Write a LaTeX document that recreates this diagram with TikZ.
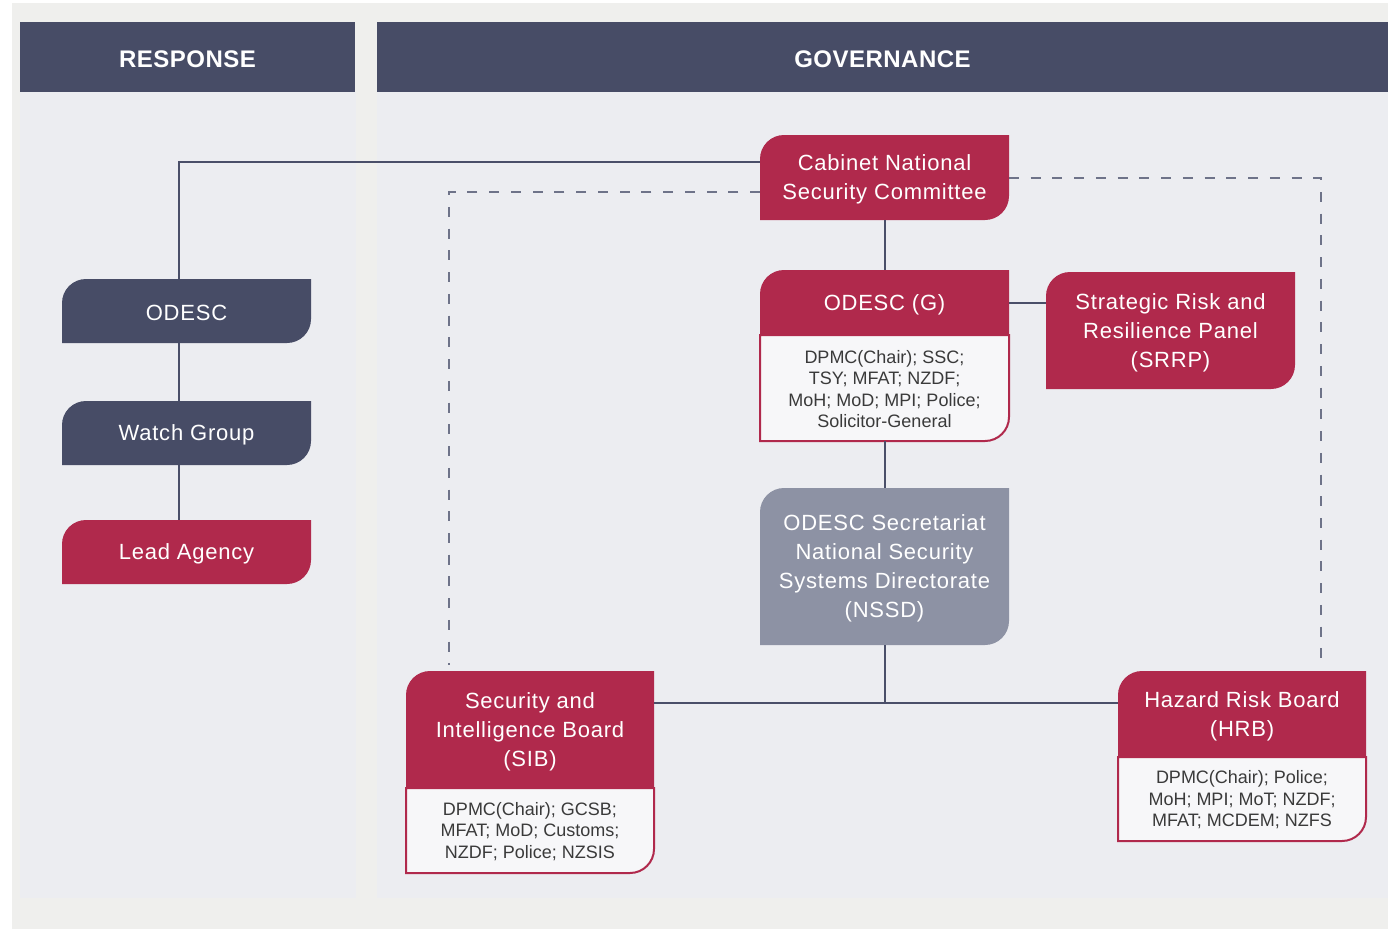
\documentclass[tikz,border=0pt]{standalone}
\usepackage{fontspec}
\setmainfont{Liberation Sans}
\newfontfamily\ttlfont[LetterSpace=3.5]{Liberation Sans}
\newfontfamily\hdrfont[LetterSpace=2]{Liberation Sans}
\usetikzlibrary{fit,calc}
\definecolor{outerbg}{HTML}{EFEFED}
\definecolor{panelbg}{HTML}{ECEDF1}
\definecolor{hdrcol}{HTML}{474C66}
\definecolor{crimson}{HTML}{B0294C}
\definecolor{graybox}{HTML}{8D92A4}
\definecolor{linkcol}{HTML}{4A4F69}
\definecolor{dashcol}{HTML}{6E7389}
\definecolor{memtext}{HTML}{3A3A3A}
\definecolor{memfill}{HTML}{F7F7F9}
% #1=x1 #2=y1 #3=x2 #4=y2 (pixels, y downward), #5=colour
\newcommand\tabshape[5]{\fill[#5] (#1,#4) -- (#1,#2+24) .. controls (#1,#2+10.75) and (#1+10.75,#2) .. (#1+24,#2) -- (#3,#2) -- (#3,#4-24) .. controls (#3,#4-10.75) and (#3-10.75,#4) .. (#3-24,#4) -- cycle;}
\newcommand\topshape[5]{\fill[#5] (#1,#4) -- (#1,#2+24) .. controls (#1,#2+10.75) and (#1+10.75,#2) .. (#1+24,#2) -- (#3,#2) -- (#3,#4) -- cycle;}
\newcommand\botshape[4]{\filldraw[fill=memfill, draw=crimson, line width=1.5pt] (#1,#2) -- (#3,#2) -- (#3,#4-24) .. controls (#3,#4-10.75) and (#3-10.75,#4) .. (#3-24,#4) -- (#1,#4) -- cycle;}
\begin{document}
\begin{tikzpicture}[x=0.75pt,y=-0.75pt,
  area/.style={inner sep=0pt, outer sep=0pt},
  ttl/.style={inner sep=0pt, align=center, text=white, font=\ttlfont\fontsize{16.5}{21.75}\selectfont},
  mem/.style={inner sep=0pt, align=center, text=memtext, font=\fontsize{13.5}{16.1}\selectfont},
  hdr/.style={inner sep=0pt, text=white, font=\hdrfont\bfseries\fontsize{18}{20}\selectfont},
  link/.style={draw=linkcol, line width=1.5pt},
  dashlink/.style={draw=dashcol, line width=1.5pt, dash pattern=on 7.5pt off 8.8pt}]
\useasboundingbox (0,0) rectangle (1388,929);

% backgrounds and box shapes
\fill[white] (0,0) rectangle (1388,929);
\fill[outerbg] (12,3) rectangle (1388,929);
\fill[panelbg] (20,92) rectangle (356,898);
\fill[panelbg] (377,92) rectangle (1388,898);
\tabshape{62}{279}{311}{343}{hdrcol}
\tabshape{62}{401}{311}{465}{hdrcol}
\tabshape{62}{520}{311}{584}{crimson}
\tabshape{760}{135}{1009}{220}{crimson}
\tabshape{1046}{272}{1295}{389}{crimson}
\tabshape{760}{488}{1009}{645}{graybox}
\botshape{760}{335}{1009}{441}
\topshape{760}{270}{1009}{335}{crimson}
\botshape{406}{788}{654}{873}
\topshape{406}{671}{654}{788}{crimson}
\botshape{1118}{757}{1366}{841}
\topshape{1118}{671}{1366}{757}{crimson}

% headers
\node[area, fill=hdrcol, fit={(20,22)(355,92)}] (resp) {};
\node[hdr] (resptxt) at ($(resp.center)+(0,2)$) {RESPONSE};
\node[area, fill=hdrcol, fit={(377,22)(1388,92)}] (gov) {};
\node[hdr] (govtxt) at ($(gov.center)+(0,2)$) {GOVERNANCE};

% areas of the boxes
\node[area, fit={(62,279)(311,343)}] (odesc) {};
\node[area, fit={(62,401)(311,465)}] (watch) {};
\node[area, fit={(62,520)(311,584)}] (lead) {};
\node[area, fit={(760,135)(1009,220)}] (cab) {};
\node[area, fit={(760,270)(1009,335)}] (odgt) {};
\node[area, fit={(760,335)(1009,441)}] (odgm) {};
\node[area, fit={(1046,272)(1295,389)}] (srrp) {};
\node[area, fit={(760,488)(1009,645)}] (nssd) {};
\node[area, fit={(406,671)(654,788)}] (sibt) {};
\node[area, fit={(406,788)(654,873)}] (sibm) {};
\node[area, fit={(1118,671)(1366,757)}] (hrbt) {};
\node[area, fit={(1118,757)(1366,841)}] (hrbm) {};

% texts
\node[ttl] (odesctxt) at ($(odesc.center)+(0,2)$) {ODESC};
\node[ttl] (watchtxt) at ($(watch.center)+(0,2)$) {Watch Group};
\node[ttl] (leadtxt) at ($(lead.center)+(0,2)$) {Lead Agency};
\node[ttl] (cabtxt) at ($(cab.center)+(0,2)$) {Cabinet National\\Security Committee};
\node[ttl] (odgttxt) at ($(odgt.center)+(0,2)$) {ODESC (G)};
\node[mem] (odgmtxt) at ($(odgm.center)+(0,1)$) {DPMC(Chair); SSC;\\TSY; MFAT; NZDF;\\MoH; MoD; MPI; Police;\\Solicitor-General};
\node[ttl] (srrptxt) at ($(srrp.center)+(0,2)$) {Strategic Risk and\\Resilience Panel\\(SRRP)};
\node[ttl] (nssdtxt) at ($(nssd.center)+(0,2)$) {ODESC Secretariat\\National Security\\Systems Directorate\\(NSSD)};
\node[ttl] (sibttxt) at ($(sibt.center)+(0,2)$) {Security and\\Intelligence Board\\(SIB)};
\node[mem] (sibmtxt) at ($(sibm.center)+(0,1)$) {DPMC(Chair); GCSB;\\MFAT; MoD; Customs;\\NZDF; Police; NZSIS};
\node[ttl] (hrbttxt) at ($(hrbt.center)+(0,2)$) {Hazard Risk Board\\(HRB)};
\node[mem] (hrbmtxt) at ($(hrbm.center)+(0,1)$) {DPMC(Chair); Police;\\MoH; MPI; MoT; NZDF;\\MFAT; MCDEM; NZFS};

% connectors
\coordinate (spine) at (179,162);
\draw[link] (odesc.north -| spine) |- (cab.west |- spine);
\draw[link] (odesc.south -| spine) -- (watch.north -| spine);
\draw[link] (watch.south -| spine) -- (lead.north -| spine);
\draw[link] (cab.south) -- (odgt.north);
\draw[link] (odgt.east) -- (srrp.west |- odgt.east);
\draw[link] (odgm.south) -- (nssd.north);
\coordinate (junc) at (884.5,703);
\draw[link] (nssd.south) -- (nssd.south |- junc);
\draw[link] (sibt.east |- junc) -- (hrbt.west |- junc);

% dashed
\coordinate (dly) at (449,192);
\coordinate (dl) at (449,665);
\coordinate (dry) at (1321,178);
\coordinate (dr) at (1321,665);
\draw[dashlink] (cab.west |- dly) -| (dl);
\draw[dashlink] (cab.east |- dry) -| (dr);
\end{tikzpicture}
\end{document}
